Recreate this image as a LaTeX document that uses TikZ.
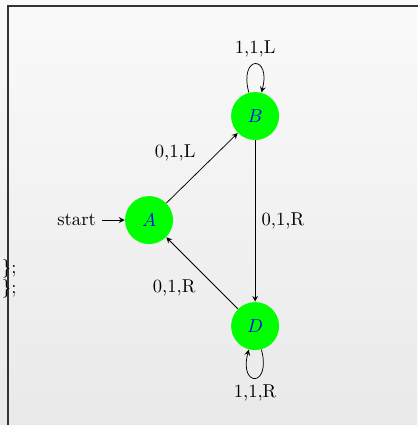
\documentclass[tikz,border=0pt]{standalone}
\usetikzlibrary{positioning}
\begin{document}
\begin{tikzpicture}[>=stealth,
    estado/.style={circle, fill=green, text=blue, minimum size=25.8pt, inner sep=0pt}]

    % Fondo y marco
    \useasboundingbox (0,0) rectangle (7.88,-8.03);
    \shade[top color=gray!4, bottom color=gray!17] (0,0) rectangle (7.88,-8.03);
    \draw[line width=0.7pt, black!80] (0.151,-9) -- (0.151,-0.113) -- (9,-0.113);

    % Restos de texto
    \node[anchor=base west, inner sep=0pt] (resto1) at (0.03,-5.16) {\};};
    \node[anchor=base west, inner sep=0pt] (resto2) at (0.03,-5.54) {\};};

    % Estados
    \node[estado] (A) at (2.816,-4.158) {$A$};
    \node[estado] (B) at (4.820,-2.192) {$B$};
    \node[estado] (D) at (4.820,-6.161) {$D$};
    \node[left=12pt of A] (start) {start};

    % Transiciones
    \draw[->] (start) -- (A);
    \draw[->] (A) -- node[above left] {0,1,L} (B);
    \draw[->] (B) -- node[right] {0,1,R} (D);
    \draw[->] (D) -- node[below left] {0,1,R} (A);
    \draw[->] (B) to[loop above] node[above] {1,1,L} (B);
    \draw[->] (D) to[loop below] node[below] {1,1,R} (D);

\end{tikzpicture}
\end{document}
